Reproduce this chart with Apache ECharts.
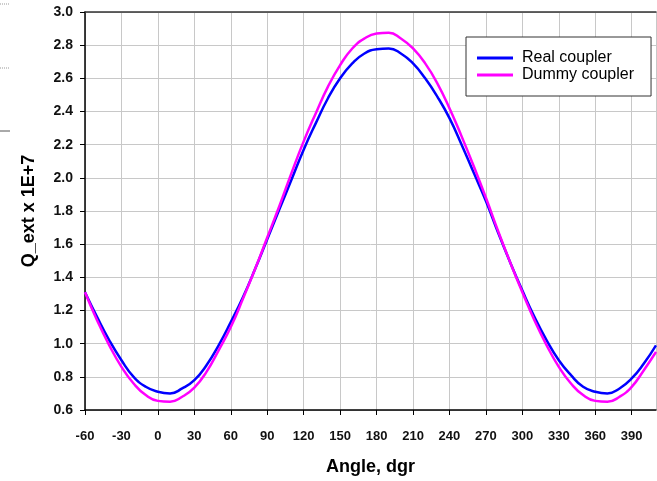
<!DOCTYPE html>
<html>
<head>
<meta charset="utf-8">
<script src="https://cdn.jsdelivr.net/npm/echarts@6/dist/echarts.min.js"></script>
<style>
  html, body { margin: 0; padding: 0; background: #fff; }
  #myChart { width: 657px; height: 481px; }
</style>
</head>
<body>
<div id="myChart"></div>
<script>
// angle, degrees
const angles = [-60, -50, -40, -30, -20, -10, 0, 10, 20, 30, 40, 50, 60, 70, 80, 90,
  100, 110, 120, 130, 140, 150, 160, 170, 180, 190, 200, 210, 220, 230, 240, 250,
  260, 270, 280, 290, 300, 310, 320, 330, 340, 350, 360, 370, 380, 390, 400, 410]

// Q_ext x 1E+7
const realCoupler = [1.31, 1.16, 1.02, 0.90, 0.80, 0.74, 0.71, 0.70, 0.73, 0.78, 0.87, 0.99, 1.13, 1.28, 1.45, 1.63,
  1.81, 1.99, 2.17, 2.33, 2.48, 2.60, 2.69, 2.75, 2.775, 2.78, 2.75, 2.69, 2.60, 2.49, 2.36, 2.20,
  2.03, 1.86, 1.67, 1.49, 1.32, 1.16, 1.02, 0.90, 0.81, 0.74, 0.71, 0.70, 0.73, 0.79, 0.88, 0.99]
const dummyCoupler = [1.31, 1.14, 0.99, 0.86, 0.76, 0.69, 0.655, 0.65, 0.68, 0.735, 0.83, 0.96, 1.10, 1.27, 1.45, 1.64,
  1.83, 2.03, 2.22, 2.39, 2.55, 2.68, 2.78, 2.84, 2.87, 2.875, 2.84, 2.78, 2.69, 2.57, 2.42, 2.25,
  2.07, 1.88, 1.68, 1.49, 1.31, 1.14, 0.99, 0.86, 0.76, 0.69, 0.655, 0.65, 0.68, 0.74, 0.84, 0.95]

const legendData = ['Real coupler', 'Dummy coupler']
const colors = ['#0000ff', '#ff00ff']

const font = 'Arial, "Liberation Sans", sans-serif'

let myChart = echarts.init(document.getElementById('myChart'), null, { renderer: 'canvas' })

let series = [realCoupler, dummyCoupler].map((vals, i) => ({
  name: legendData[i],
  type: 'line',
  smooth: true,
  showSymbol: false,
  symbol: 'none',
  lineStyle: { width: 2.5, color: colors[i] },
  data: angles.map((a, k) => [a, vals[k]])
}))

let option = {
  animation: false,
  color: colors,
  grid: { left: 85, right: 1, top: 12, bottom: 71 },
  legend: {
    orient: 'vertical',
    left: 466,
    top: 37,
    padding: [13, 17, 13, 11],
    icon: 'rect',
    itemWidth: 36,
    itemHeight: 3,
    itemGap: 1,
    borderColor: '#333',
    borderWidth: 1,
    borderRadius: 0,
    backgroundColor: '#fff',
    textStyle: { fontFamily: font, fontSize: 16, color: '#000', lineHeight: 16, padding: [0, 0, 0, 4] },
    data: legendData
  },
  xAxis: [
    {
      type: 'value',
      min: -60,
      max: 410,
      interval: 30,
      name: 'Angle, dgr',
      nameLocation: 'middle',
      nameGap: 48,
      nameTextStyle: { fontFamily: font, fontSize: 18, fontWeight: 'bold', color: '#000' },
      axisLine: { onZero: false, lineStyle: { color: '#000', width: 1.5 } },
      axisTick: { show: true, length: 5, lineStyle: { color: '#000' } },
      axisLabel: {
        margin: 20, fontFamily: font, fontSize: 13, fontWeight: 'bold', color: '#111',
        showMaxLabel: false,
        formatter: v => (v > 390 ? '' : String(v))
      },
      splitLine: { show: true, lineStyle: { color: '#c8c8c8', width: 1 } }
    },
    {
      type: 'value',
      position: 'top',
      min: -60,
      max: 410,
      axisLine: { onZero: false, lineStyle: { color: '#333', width: 1.5 } },
      axisTick: { show: false },
      axisLabel: { show: false },
      splitLine: { show: false }
    }
  ],
  yAxis: {
    type: 'value',
    min: 0.6,
    max: 3.0,
    interval: 0.2,
    name: 'Q_ext x 1E+7',
    nameLocation: 'middle',
    nameGap: 47,
    nameTextStyle: { fontFamily: font, fontSize: 18, fontWeight: 'bold', color: '#000' },
    axisLine: { show: true, onZero: false, lineStyle: { color: '#000', width: 1.5 } },
    axisTick: { show: true, length: 5, lineStyle: { color: '#000' } },
    axisLabel: {
      margin: 12, fontFamily: font, fontSize: 14, fontWeight: 'bold', color: '#111',
      formatter: v => v.toFixed(1)
    },
    splitLine: { show: true, lineStyle: { color: '#c8c8c8', width: 1 } }
  },
  graphic: [
    { type: 'line', shape: { x1: 0, y1: 4, x2: 10, y2: 4 }, style: { stroke: '#999', lineWidth: 1, lineDash: [1, 1] } },
    { type: 'line', shape: { x1: 0, y1: 68, x2: 10, y2: 68 }, style: { stroke: '#999', lineWidth: 1, lineDash: [1, 1] } },
    { type: 'line', shape: { x1: 0, y1: 131, x2: 10, y2: 131 }, style: { stroke: '#555', lineWidth: 1 } }
  ],
  series: series
}
myChart.setOption(option)
</script>
</body>
</html>
